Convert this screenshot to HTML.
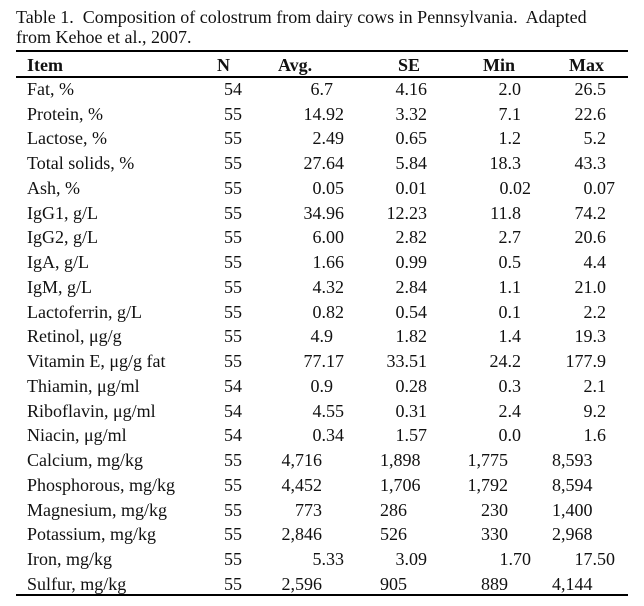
<!DOCTYPE html>
<html><head><meta charset="utf-8"><style>
body{margin:0;background:#fff;}
#c{position:relative;width:644px;height:606px;overflow:hidden;font-family:"Liberation Serif",serif;color:#111;font-size:18px;}
#c div{position:absolute;line-height:20px;white-space:nowrap;}
.t{left:16px;font-size:18px;}
.h{font-weight:bold;top:55px;}
.rule{height:1.5px;background:#000;left:16px;width:612px;}
.n{right:402px}.a2{right:300px}.a1{right:311px}.s{right:217px}.m{right:123px}.m2{right:113px}.x{right:38px}.x2{right:29px}
.ai{right:322px}.si{left:380px}.mi{right:136px}.xi{left:552px}
.nm{left:27px}
</style></head><body><div id="c">
<div class="t" style="top:7px">Table 1.&nbsp; Composition of colostrum from dairy cows in Pennsylvania.&nbsp; Adapted</div>
<div class="t" style="top:27px">from Kehoe et al., 2007.</div>
<div class="rule" style="top:50px"></div>
<div class="h nm">Item</div><div class="h" style="left:217px">N</div><div class="h" style="left:278px">Avg.</div><div class="h" style="left:398px">SE</div><div class="h" style="left:483px">Min</div><div class="h" style="left:569px">Max</div>
<div class="rule" style="top:76px"></div>

<div class="nm" style="top:79px">Fat, %</div><div class="n" style="top:79px">54</div><div class="a1" style="top:79px">6.7</div><div class="s" style="top:79px">4.16</div><div class="m" style="top:79px">2.0</div><div class="x" style="top:79px">26.5</div>
<div class="nm" style="top:104px">Protein, %</div><div class="n" style="top:104px">55</div><div class="a2" style="top:104px">14.92</div><div class="s" style="top:104px">3.32</div><div class="m" style="top:104px">7.1</div><div class="x" style="top:104px">22.6</div>
<div class="nm" style="top:128px">Lactose, %</div><div class="n" style="top:128px">55</div><div class="a2" style="top:128px">2.49</div><div class="s" style="top:128px">0.65</div><div class="m" style="top:128px">1.2</div><div class="x" style="top:128px">5.2</div>
<div class="nm" style="top:153px">Total solids, %</div><div class="n" style="top:153px">55</div><div class="a2" style="top:153px">27.64</div><div class="s" style="top:153px">5.84</div><div class="m" style="top:153px">18.3</div><div class="x" style="top:153px">43.3</div>
<div class="nm" style="top:178px">Ash, %</div><div class="n" style="top:178px">55</div><div class="a2" style="top:178px">0.05</div><div class="s" style="top:178px">0.01</div><div class="m2" style="top:178px">0.02</div><div class="x2" style="top:178px">0.07</div>
<div class="nm" style="top:203px">IgG1, g/L</div><div class="n" style="top:203px">55</div><div class="a2" style="top:203px">34.96</div><div class="s" style="top:203px">12.23</div><div class="m" style="top:203px">11.8</div><div class="x" style="top:203px">74.2</div>
<div class="nm" style="top:227px">IgG2, g/L</div><div class="n" style="top:227px">55</div><div class="a2" style="top:227px">6.00</div><div class="s" style="top:227px">2.82</div><div class="m" style="top:227px">2.7</div><div class="x" style="top:227px">20.6</div>
<div class="nm" style="top:252px">IgA, g/L</div><div class="n" style="top:252px">55</div><div class="a2" style="top:252px">1.66</div><div class="s" style="top:252px">0.99</div><div class="m" style="top:252px">0.5</div><div class="x" style="top:252px">4.4</div>
<div class="nm" style="top:277px">IgM, g/L</div><div class="n" style="top:277px">55</div><div class="a2" style="top:277px">4.32</div><div class="s" style="top:277px">2.84</div><div class="m" style="top:277px">1.1</div><div class="x" style="top:277px">21.0</div>
<div class="nm" style="top:302px">Lactoferrin, g/L</div><div class="n" style="top:302px">55</div><div class="a2" style="top:302px">0.82</div><div class="s" style="top:302px">0.54</div><div class="m" style="top:302px">0.1</div><div class="x" style="top:302px">2.2</div>
<div class="nm" style="top:326px">Retinol, μg/g</div><div class="n" style="top:326px">55</div><div class="a1" style="top:326px">4.9</div><div class="s" style="top:326px">1.82</div><div class="m" style="top:326px">1.4</div><div class="x" style="top:326px">19.3</div>
<div class="nm" style="top:351px">Vitamin E, μg/g fat</div><div class="n" style="top:351px">55</div><div class="a2" style="top:351px">77.17</div><div class="s" style="top:351px">33.51</div><div class="m" style="top:351px">24.2</div><div class="x" style="top:351px">177.9</div>
<div class="nm" style="top:376px">Thiamin, μg/ml</div><div class="n" style="top:376px">54</div><div class="a1" style="top:376px">0.9</div><div class="s" style="top:376px">0.28</div><div class="m" style="top:376px">0.3</div><div class="x" style="top:376px">2.1</div>
<div class="nm" style="top:401px">Riboflavin, μg/ml</div><div class="n" style="top:401px">54</div><div class="a2" style="top:401px">4.55</div><div class="s" style="top:401px">0.31</div><div class="m" style="top:401px">2.4</div><div class="x" style="top:401px">9.2</div>
<div class="nm" style="top:425px">Niacin, μg/ml</div><div class="n" style="top:425px">54</div><div class="a2" style="top:425px">0.34</div><div class="s" style="top:425px">1.57</div><div class="m" style="top:425px">0.0</div><div class="x" style="top:425px">1.6</div>
<div class="nm" style="top:450px">Calcium, mg/kg</div><div class="n" style="top:450px">55</div><div class="ai" style="top:450px">4,716</div><div class="si" style="top:450px">1,898</div><div class="mi" style="top:450px">1,775</div><div class="xi" style="top:450px">8,593</div>
<div class="nm" style="top:475px">Phosphorous, mg/kg</div><div class="n" style="top:475px">55</div><div class="ai" style="top:475px">4,452</div><div class="si" style="top:475px">1,706</div><div class="mi" style="top:475px">1,792</div><div class="xi" style="top:475px">8,594</div>
<div class="nm" style="top:500px">Magnesium, mg/kg</div><div class="n" style="top:500px">55</div><div class="ai" style="top:500px">773</div><div class="si" style="top:500px">286</div><div class="mi" style="top:500px">230</div><div class="xi" style="top:500px">1,400</div>
<div class="nm" style="top:524px">Potassium, mg/kg</div><div class="n" style="top:524px">55</div><div class="ai" style="top:524px">2,846</div><div class="si" style="top:524px">526</div><div class="mi" style="top:524px">330</div><div class="xi" style="top:524px">2,968</div>
<div class="nm" style="top:549px">Iron, mg/kg</div><div class="n" style="top:549px">55</div><div class="a2" style="top:549px">5.33</div><div class="s" style="top:549px">3.09</div><div class="m2" style="top:549px">1.70</div><div class="x2" style="top:549px">17.50</div>
<div class="nm" style="top:574px">Sulfur, mg/kg</div><div class="n" style="top:574px">55</div><div class="ai" style="top:574px">2,596</div><div class="si" style="top:574px">905</div><div class="mi" style="top:574px">889</div><div class="xi" style="top:574px">4,144</div>
<div class="rule" style="top:594px"></div>
</div></body></html>
